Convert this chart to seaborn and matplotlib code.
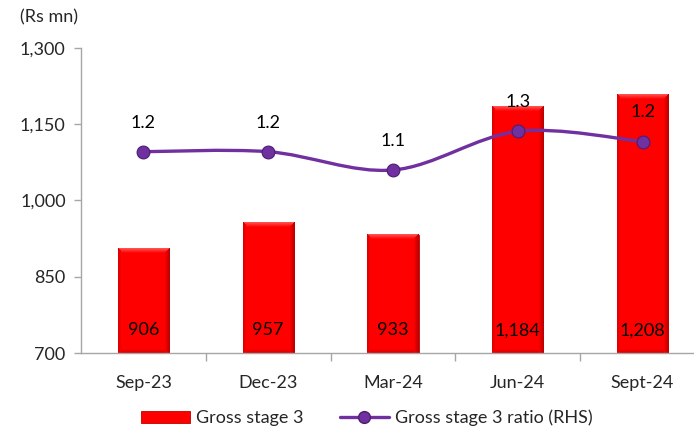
import numpy as np
import pandas as pd
import matplotlib
matplotlib.use("Agg")
import matplotlib.pyplot as plt
from matplotlib.path import Path
from matplotlib.patches import PathPatch, Patch
from matplotlib.lines import Line2D
from matplotlib.ticker import FuncFormatter, FixedLocator
import seaborn as sns

categories = ["Sep-23", "Dec-23", "Mar-24", "Jun-24", "Sept-24"]
gross_stage3 = [906, 957, 933, 1184, 1208]
gs3_ratio = [1.19, 1.19, 1.10, 1.29, 1.24]
yticks = [700, 850, 1000, 1150, 1300]

sns.set_theme(style="white")
plt.rcParams["font.family"] = ["Lato", "DejaVu Sans"]
plt.rcParams["font.size"] = 13

RED = "#FF0000"
PURPLE = "#7030A0"
GRAY = "#A6A6A6"
FS = 13
YMIN, YMAX = 700, 1300

fig = plt.figure(figsize=(6.94, 4.34), dpi=100)
ax = fig.add_axes([81 / 694, 1 - 353 / 434, (705 - 81) / 694, (353 - 48) / 434])

df = pd.DataFrame({"cat": categories, "val": gross_stage3})
sns.barplot(data=df, x="cat", y="val", ax=ax, color=RED, width=0.41,
            saturation=1, edgecolor="#C00000", linewidth=0.6)

ax.set_xlim(-0.5, len(categories) - 0.5)
ax.set_ylim(YMIN, YMAX)
ax.set_yticks(yticks)
ax.yaxis.set_major_formatter(FuncFormatter(lambda v, _: f"{int(v):,}"))
ax.set_xlabel("")
ax.set_ylabel("")
for s in ["top", "right"]:
    ax.spines[s].set_visible(False)
for s in ["left", "bottom"]:
    ax.spines[s].set_color(GRAY)
    ax.spines[s].set_linewidth(1.0)
    ax.spines[s].set_zorder(6)
ax.tick_params(axis="y", which="major", length=5, color=GRAY, width=1, labelsize=FS, pad=6, left=True)
ax.tick_params(axis="x", which="major", length=0, labelsize=FS, pad=16)
ax.xaxis.set_minor_locator(FixedLocator(np.arange(0.5, len(categories) - 0.5, 1)))
ax.tick_params(axis="x", which="minor", length=6, color=GRAY, width=1, bottom=True)

# bevel shading inside each bar (decorative, derived from bar geometry)
def bevel_image(wpx, hpx, b=5.0):
    w = max(int(round(wpx)), 2)
    h = max(int(round(hpx)), 2)
    xs = np.arange(w) + 0.5
    ys = np.arange(h) + 0.5
    X, Y = np.meshgrid(xs, ys)
    img = np.zeros((h, w, 3))
    img[...] = [1.0, 0.0, 0.0]
    top = Y < b
    t = np.clip(1 - Y / b, 0, 1)
    img[top, 1] = 0.35 * t[top]
    img[top, 2] = 0.35 * t[top]
    right = (w - X) < b
    rr = np.clip(1 - (w - X) / b, 0, 1)
    m = right & ~(top & (Y < (w - X)))
    img[m, 0] = 1.0 - 0.3 * rr[m]
    img[m, 1] = 0
    img[m, 2] = 0
    left = X < b * 0.7
    ll = np.clip(1 - X / (b * 0.7), 0, 1)
    m = left & ~(top & (Y < X))
    img[m, 0] = 1.0 - 0.15 * ll[m]
    img[m, 1] = 0
    img[m, 2] = 0
    bottom = (h - Y) < b * 0.8
    bb = np.clip(1 - (h - Y) / (b * 0.8), 0, 1)
    m = bottom & ~left & ~right
    img[m, 0] = 1.0 - 0.18 * bb[m]
    img[m, 1] = 0
    img[m, 2] = 0
    return img

for p in list(ax.patches):
    x0 = p.get_x()
    w = p.get_width()
    yb = max(p.get_y(), YMIN)
    yt = p.get_y() + p.get_height()
    (px0, py0), (px1, py1) = ax.transData.transform([(x0, yb), (x0 + w, yt)])
    img = bevel_image(px1 - px0, py1 - py0)
    ax.imshow(img, extent=(x0, x0 + w, yb, yt), aspect="auto",
              origin="upper", zorder=p.get_zorder() + 0.1, interpolation="bilinear")
ax.set_xlim(-0.5, len(categories) - 0.5)
ax.set_ylim(YMIN, YMAX)

for i, v in enumerate(gross_stage3):
    ax.text(i, 745, f"{v:,}", ha="center", va="center", fontsize=FS, color="black", zorder=5)

# secondary axis (hidden)
ax2 = ax.twinx()
ax2.set_ylim(0.2, 1.7)
ax2.set_axis_off()

x = np.arange(len(categories), dtype=float)
y = np.array(gs3_ratio, dtype=float)
verts = [(x[0], y[0])]
codes = [Path.MOVETO]
for i in range(len(x) - 1):
    p0 = np.array([x[max(i - 1, 0)], y[max(i - 1, 0)]])
    p1 = np.array([x[i], y[i]])
    p2 = np.array([x[i + 1], y[i + 1]])
    p3 = np.array([x[min(i + 2, len(x) - 1)], y[min(i + 2, len(x) - 1)]])
    c1 = p1 + (p2 - p0) / 6
    c2 = p2 - (p3 - p1) / 6
    verts += [tuple(c1), tuple(c2), tuple(p2)]
    codes += [Path.CURVE4] * 3
ax2.add_patch(PathPatch(Path(verts, codes), facecolor="none", edgecolor=PURPLE, lw=2.4, zorder=3))

sdf = pd.DataFrame({"x": x, "y": y})
sns.scatterplot(data=sdf, x="x", y="y", ax=ax2, color=PURPLE, s=85,
                edgecolor="#4B1F70", linewidth=0.8, zorder=4, legend=False)
ax2.set_xlim(-0.5, len(categories) - 0.5)

for i, v in enumerate(gs3_ratio):
    ax2.annotate(f"{v:.1f}", (i, v), xytext=(0, 21), textcoords="offset points",
                 ha="center", va="center", fontsize=FS, color="black")

fig.text(20 / 694, 1 - 17 / 434, "(Rs mn)", ha="left", va="center", fontsize=FS)

handles = [Patch(facecolor=RED, edgecolor="#C00000", linewidth=0.6),
           Line2D([0], [0], color=PURPLE, lw=2.4, marker="o", markersize=8.5,
                  markerfacecolor=PURPLE, markeredgecolor="#4B1F70")]
fig.legend(handles, ["Gross stage 3", "Gross stage 3 ratio (RHS)"], loc="center",
           bbox_to_anchor=(367 / 694, 1 - 418 / 434), ncol=2, frameon=False,
           fontsize=FS, handlelength=2.7, handletextpad=0.35, columnspacing=2.0)

fig.savefig("out.png", dpi=100)
